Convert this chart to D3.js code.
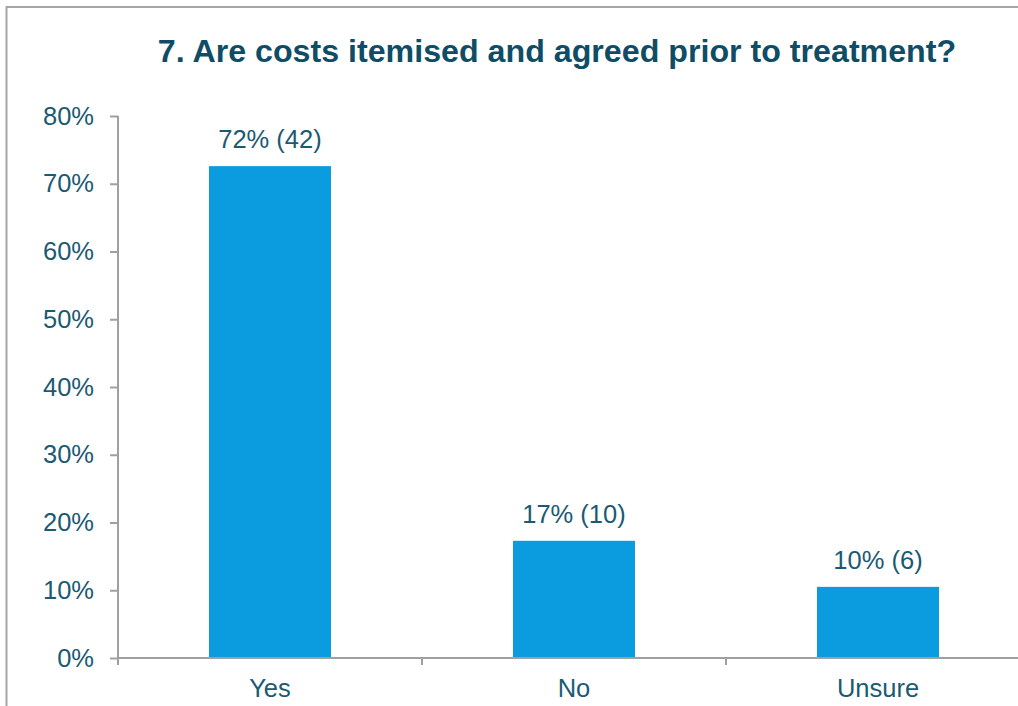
<!DOCTYPE html>
<html>
<head>
<meta charset="utf-8">
<script src="https://cdn.jsdelivr.net/npm/d3@7"></script>
<style>
  body { margin: 0; background: #fff; }
  text { font-family: "Liberation Sans", Arial, sans-serif; }
</style>
</head>
<body>
<div id="chart"></div>
<script>
const categories = ["Yes", "No", "Unsure"];
const shares     = [0.726, 0.173, 0.105];
const pctLabels  = ["72%", "17%", "10%"];
const counts     = [42, 10, 6];
const yTicks     = [0, 0.1, 0.2, 0.3, 0.4, 0.5, 0.6, 0.7, 0.8];

const width  = 1018;
const height = 706;

const svg = d3.select("#chart")
  .append("svg")
  .attr("width", width)
  .attr("height", height);

// frame around the chart
svg.append("path")
  .attr("d", `M6.5,${height} V7 H${width}`)
  .attr("fill", "none")
  .attr("stroke", "#a6a6a6")
  .attr("stroke-width", 2);

svg.append("text")
  .attr("x", 557)
  .attr("y", 62)
  .attr("text-anchor", "middle")
  .style("font-size", "32.2px")
  .style("font-weight", "bold")
  .style("fill", "#0f4d66")
  .text("7. Are costs itemised and agreed prior to treatment?");

// band step 304, bar width 122
const xScale = d3.scaleBand()
  .domain(categories)
  .range([118, 1030])
  .paddingInner(1 - 122 / 304)
  .paddingOuter((1 - 122 / 304) / 2);

const yScale = d3.scaleLinear()
  .domain([0, 0.8])
  .range([658, 116]);

// bars
svg.selectAll("rect.bar")
  .data(categories)
  .join("rect")
    .attr("class", "bar")
    .attr("x", d => xScale(d))
    .attr("width", xScale.bandwidth())
    .attr("y", (d, i) => yScale(shares[i]))
    .attr("height", (d, i) => yScale(0) - yScale(shares[i]))
    .attr("fill", "#0b9bdf");

// y axis
const yAxis = svg.append("g")
  .attr("transform", "translate(118,0)")
  .call(d3.axisLeft(yScale).tickValues(yTicks).tickFormat(d3.format(".0%")).tickSize(8).tickPadding(16));

// x axis, ticks at band edges
const xEdges = categories.map(c => xScale(c) - xScale.step() * xScale.paddingInner() / 2)
  .concat([1030]);

const xAxis = svg.append("g")
  .attr("transform", "translate(0,658)");

xAxis.append("line")
  .attr("x1", 118).attr("x2", width)
  .attr("y1", 0).attr("y2", 0);

xAxis.selectAll("line.tick")
  .data(xEdges)
  .join("line")
    .attr("class", "tick")
    .attr("x1", d => d).attr("x2", d => d)
    .attr("y1", 0).attr("y2", 7);

xAxis.selectAll("text")
  .data(categories)
  .join("text")
    .attr("x", d => xScale(d) + xScale.bandwidth() / 2)
    .attr("y", 39)
    .attr("text-anchor", "middle")
    .text(d => d);

[yAxis, xAxis].forEach(g => {
  g.select(".domain").attr("stroke", "#a0a0a0").attr("stroke-width", 2);
  g.selectAll("line").attr("stroke", "#a0a0a0").attr("stroke-width", 2);
  g.selectAll("text")
    .style("font-size", "25.5px")
    .style("font-family", "'Liberation Sans', Arial, sans-serif")
    .style("fill", "#1b5a73");
});

yAxis.select(".domain").attr("d", "M0,116V658");

// value labels
svg.selectAll("text.value")
  .data(categories)
  .join("text")
    .attr("class", "value")
    .attr("x", d => xScale(d) + xScale.bandwidth() / 2)
    .attr("y", (d, i) => yScale(shares[i]) - 18)
    .attr("text-anchor", "middle")
    .style("font-size", "25.5px")
    .style("fill", "#1b5a73")
    .text((d, i) => `${pctLabels[i]} (${counts[i]})`);
</script>
</body>
</html>
